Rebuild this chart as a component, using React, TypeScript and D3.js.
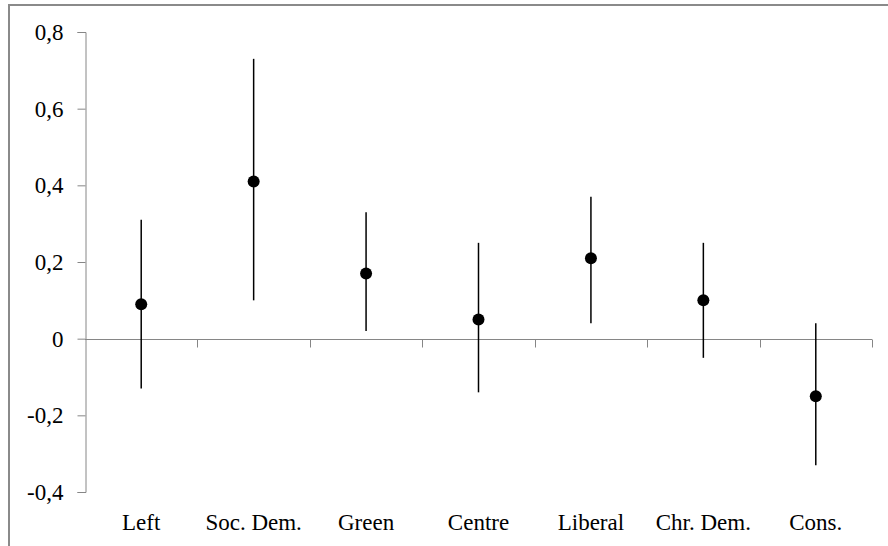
import React, { useEffect, useRef } from 'react';
import * as d3 from 'd3';

const parties = ['Left', 'Soc. Dem.', 'Green', 'Centre', 'Liberal', 'Chr. Dem.', 'Cons.'];
const estimates = [0.09, 0.41, 0.17, 0.05, 0.21, 0.1, -0.15];
const lowerBounds = [-0.13, 0.1, 0.02, -0.14, 0.04, -0.05, -0.33];
const upperBounds = [0.31, 0.73, 0.33, 0.25, 0.37, 0.25, 0.04];
const yTicks = [-0.4, -0.2, 0, 0.2, 0.4, 0.6, 0.8];

const W = 888;
const H = 546;
const FONT = 'Liberation Serif, Times New Roman, DejaVu Serif, serif';

const App = () => {
  const ref = useRef<SVGSVGElement>(null);

  useEffect(() => {
    const svg = d3.select(ref.current);
    svg.selectAll('*').remove();

    const margin = { top: 32, right: 16, bottom: 54, left: 85 };
    const x = d3.scaleBand<string>().domain(parties).range([margin.left, 872]).padding(0);
    const y = d3.scaleLinear().domain([-0.4, 0.8]).range([H - margin.bottom, margin.top]);
    const axisColor = '#868686';

    // outer frame (top + left edges visible)
    svg.append('line').attr('x1', 8).attr('x2', W).attr('y1', 5).attr('y2', 5)
      .attr('stroke', '#8a8a8a').attr('stroke-width', 2);
    svg.append('line').attr('x1', 9).attr('x2', 9).attr('y1', 4).attr('y2', H)
      .attr('stroke', '#8a8a8a').attr('stroke-width', 2);

    // y axis
    const yAxis = svg.append('g')
      .attr('transform', `translate(${margin.left + 0.5},0)`)
      .call(d3.axisLeft(y).tickValues(yTicks).tickSize(8).tickPadding(14)
        .tickFormat(d => (+d === 0 ? '0' : (+d).toFixed(1).replace('.', ','))));
    yAxis.attr('font-family', FONT).attr('font-size', 23);
    yAxis.select('.domain').attr('stroke', axisColor);
    yAxis.selectAll('.tick line').attr('stroke', axisColor);
    yAxis.selectAll('.tick text').attr('fill', '#000');

    // x axis at zero
    const zeroY = Math.round(y(0)) + 0.5;
    svg.append('line').attr('x1', margin.left).attr('x2', 872).attr('y1', zeroY).attr('y2', zeroY)
      .attr('stroke', axisColor);
    const boundaries = parties.map(p => x(p)!).concat([872]).slice(1);
    svg.append('g').selectAll('line').data(boundaries).join('line')
      .attr('x1', d => Math.round(d) + 0.5).attr('x2', d => Math.round(d) + 0.5)
      .attr('y1', zeroY).attr('y2', zeroY + 8)
      .attr('stroke', axisColor);

    // category labels
    svg.append('g')
      .attr('font-family', FONT)
      .attr('font-size', 23)
      .selectAll('text').data(parties).join('text')
      .attr('x', d => x(d)! + x.bandwidth() / 2)
      .attr('y', 530)
      .attr('text-anchor', 'middle')
      .text(d => d);

    // error bars
    svg.append('g').selectAll('line').data(parties).join('line')
      .attr('x1', d => x(d)! + x.bandwidth() / 2)
      .attr('x2', d => x(d)! + x.bandwidth() / 2)
      .attr('y1', (_, i) => y(lowerBounds[i]))
      .attr('y2', (_, i) => y(upperBounds[i]))
      .attr('stroke', '#000')
      .attr('stroke-width', 1.5);

    // point estimates
    svg.append('g').selectAll('circle').data(parties).join('circle')
      .attr('cx', d => x(d)! + x.bandwidth() / 2)
      .attr('cy', (_, i) => y(estimates[i]))
      .attr('r', 6)
      .attr('fill', '#000');
  }, []);

  return (
    <svg ref={ref} width={W} height={H}
      style={{ position: 'absolute', left: 0, top: 0, background: '#fff' }} />
  );
};

export default App;
